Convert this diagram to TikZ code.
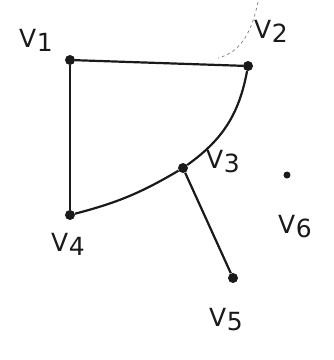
\documentclass[tikz,border=0pt]{standalone}
\usepackage{fontspec}
\setmainfont{DejaVu Sans}
\definecolor{ink}{HTML}{1A1A1A}
\tikzset{
  vtx/.style={circle,fill=ink,inner sep=0pt,minimum size=10pt},
  edge/.style={draw=ink,line width=2.2pt},
  lbl/.style={text=ink,inner sep=0pt,font=\fontsize{25}{25}\selectfont}
}
\newcommand{\vl}[1]{V\kern0.5pt\raisebox{-4pt}{#1}}
\begin{document}
\begin{tikzpicture}[x=1pt,y=-1pt]
\useasboundingbox[fill=white] (0,0) rectangle (334,360);
\node[vtx] (v1) at (70,60) {};
\node[vtx] (v2) at (248,66) {};
\node[vtx] (v3) at (183,168) {};
\node[vtx] (v4) at (70,215) {};
\node[vtx] (v5) at (233,278) {};
\node[circle,fill=ink,inner sep=0pt,minimum size=7pt] (v6) at (287,175) {};
\node[lbl] (l1) at (36,40) {\vl{1}};
\node[lbl] (l2) at (271,31) {\vl{2}};
\node[lbl] (l3) at (223,162) {\vl{3}};
\node[lbl] (l4) at (68,244) {\vl{4}};
\node[lbl] (l5) at (226,320) {\vl{5}};
\node[lbl] (l6) at (295,227) {\vl{6}};
\coordinate (p0) at (258,2);
\coordinate (p1) at (218,58);
\draw[gray,dashed,line width=0.7pt] (p0) .. controls (252,30) and (242,52) .. (p1);
\draw[edge] (v1) -- (v2);
\draw[edge] (v1) -- (v4);
\draw[edge] (v2) to[bend left=22] (v3);
\draw[edge] (v4) to[bend right=8] (v3);
\draw[edge] (v3) -- (v5);
\end{tikzpicture}
\end{document}
